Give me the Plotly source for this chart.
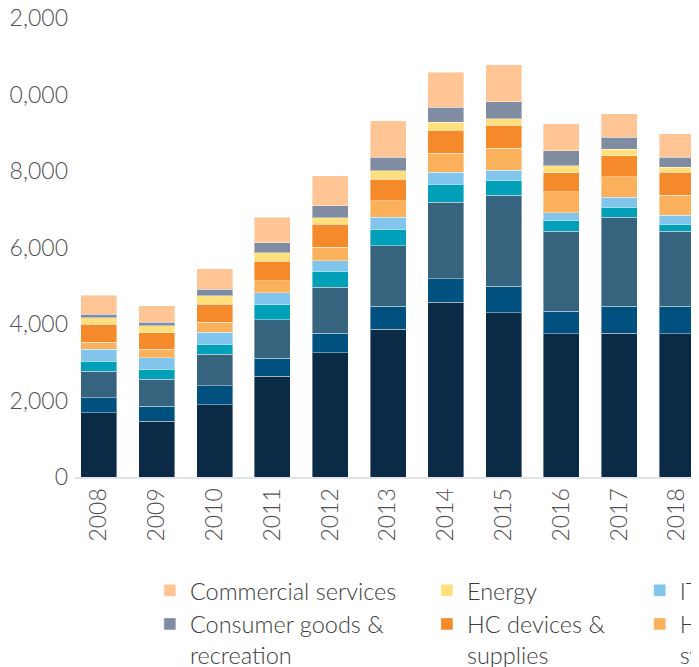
import plotly.graph_objects as go

# US VC deal count by sector
years = ["2008", "2009", "2010", "2011", "2012", "2013", "2014", "2015", "2016", "2017", "2018"]

software = [1680, 1460, 1895, 2635, 3245, 3865, 4565, 4295, 3745, 3760, 3745]
pharma_biotech = [390, 390, 490, 470, 515, 600, 615, 695, 595, 710, 720]
other = [695, 705, 825, 1010, 1200, 1580, 2000, 2380, 2090, 2320, 1960]
media = [260, 260, 255, 390, 420, 430, 480, 385, 265, 260, 185]
it_hardware = [315, 300, 315, 315, 270, 320, 305, 260, 215, 260, 230]
hc_services = [185, 225, 260, 315, 355, 430, 495, 585, 550, 540, 520]
hc_devices = [470, 435, 480, 505, 600, 560, 600, 600, 495, 550, 610]
energy = [175, 175, 215, 225, 175, 220, 220, 170, 185, 175, 130]
consumer_goods = [85, 95, 180, 260, 315, 350, 390, 445, 390, 305, 260]
commercial_services = [500, 430, 535, 660, 785, 965, 915, 965, 705, 620, 620]

y_ticks = [0, 2000, 4000, 6000, 8000, 10000, 12000]

# (name, values, colour, legend column, row) from bottom of the stack to the top
series = [
    ("Software", software, "#0a2a46", "legend", 4),
    ("Pharma & biotech", pharma_biotech, "#00517f", "legend3", 3),
    ("Other", other, "#36637e", "legend2", 3),
    ("Media", media, "#00a0b8", "legend", 3),
    ("IT hardware", it_hardware, "#82c5ec", "legend3", 1),
    ("HC services &<br>systems", hc_services, "#fbb05c", "legend3", 2),
    ("HC devices &<br>supplies", hc_devices, "#f58a2a", "legend2", 2),
    ("Energy", energy, "#ffe07d", "legend2", 1),
    ("Consumer goods &<br>recreation", consumer_goods, "#7f8ca1", "legend", 2),
    ("Commercial services", commercial_services, "#ffc595", "legend", 1),
]

fig = go.Figure()
for name, vals, color, leg, rank in series:
    fig.add_trace(go.Bar(
        x=years, y=vals, name=name,
        marker=dict(color=color, line=dict(color="rgba(255,255,255,0.4)", width=1)),
        legend=leg, legendrank=rank,
    ))

font_family = "Lato, 'Open Sans', sans-serif"
legend_common = dict(
    orientation="v", yanchor="top", xanchor="left", y=-0.1995,
    traceorder="normal",
    font=dict(family=font_family, size=23.5, color="#3d3d3d", weight=300),
    valign="top", bgcolor="rgba(0,0,0,0)", maxheight=1000,
)

# the page body keeps an 8px margin, so the figure is 8px smaller than the window
fig.update_layout(
    barmode="stack",
    bargap=0.377,
    width=691,
    height=659,
    margin=dict(l=67, r=0, t=10, b=190, autoexpand=False),
    paper_bgcolor="white",
    plot_bgcolor="white",
    font=dict(family=font_family, size=23, color="#505050", weight=300),
    legend=dict(x=0.12, **legend_common),
    legend2=dict(x=0.564, **legend_common),
    legend3=dict(x=0.905, **legend_common),
    xaxis=dict(
        type="category",
        range=[-0.415, 10.38],
        showline=True, linecolor="#e2e3e8", linewidth=2,
        ticks="", tickangle=-90, showgrid=False, zeroline=False,
        tickfont=dict(size=23, color="#505050"),
    ),
    yaxis=dict(
        range=[0, 12000],
        tickvals=y_ticks,
        tickformat=",d",
        showgrid=False, zeroline=False, showline=False,
        ticks="", ticklabelstandoff=6, automargin=False,
        ticklabeloverflow="allow",
        tickfont=dict(size=23, color="#505050"),
    ),
)

fig.write_html("out.html")
